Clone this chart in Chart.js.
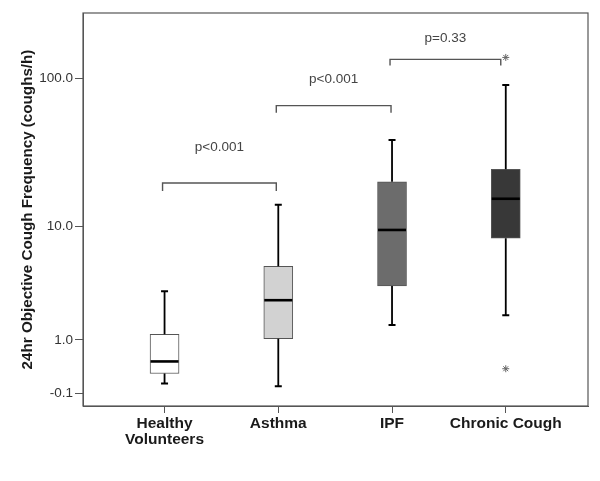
<!DOCTYPE html>
<html>
<head>
<meta charset="utf-8">
<style>
  html, body { margin: 0; padding: 0; background: #fff; }
  #wrap { width: 600px; height: 481px; }
</style>
<script src="https://cdn.jsdelivr.net/npm/chart.js@4/dist/chart.umd.min.js"></script>
</head>
<body>
<div id="wrap"><canvas id="myChart" width="600" height="481"></canvas></div>
<script>
// coughs per hour
const categories = [['Healthy', 'Volunteers'], 'Asthma', 'IPF', 'Chronic Cough'];
const whiskerLow = [0.04, 0.0, 1.5, 1.9];
const q1 = [0.21, 1.04, 3.49, 8.2];
const median = [0.45, 2.63, 9.4, 15.6];
const q3 = [1.18, 5.04, 20.4, 24.8];
const whiskerHigh = [3.15, 14.2, 39.0, 90.2];
const outlierCat = [3, 3];
const outlierVal = [0.30, 137];
const tickValues = [100, 10, 1, -0.1];
const tickLabels = ['100.0', '10.0', '1.0', '-0.1'];
const pLabels = ['p<0.001', 'p<0.001', 'p=0.33'];

const boxColors = ['#ffffff', '#d2d2d2', '#6c6c6c', '#383838'];

// axis is log10(x + 1)
const T = v => Math.log10(v + 1);

// bracket layout (levels in coughs/h)
const brackets = [
  { from: 0, to: 1, level: 20, drop: 8, textAt: 35, dxR: -2 },
  { from: 1, to: 2, level: 66, drop: 7, textAt: 99, dxR: -1 },
  { from: 2, to: 3, level: 133, drop: 6, textAt: 183, dxR: -5 }
];

const ctx = document.getElementById('myChart').getContext('2d');

const boxPlugin = {
  id: 'boxExtras',
  afterDatasetsDraw(chart) {
    const c = chart.ctx;
    const xs = chart.scales.x, ys = chart.scales.y;
    const a = chart.chartArea;
    c.save();
    // whiskers and caps
    c.strokeStyle = '#000';
    categories.forEach((cat, i) => {
      const x = xs.getPixelForValue(i);
      c.lineWidth = 1.8;
      c.beginPath();
      c.moveTo(x, ys.getPixelForValue(T(whiskerHigh[i])));
      c.lineTo(x, ys.getPixelForValue(T(q3[i])));
      c.moveTo(x, ys.getPixelForValue(T(q1[i])));
      c.lineTo(x, ys.getPixelForValue(T(whiskerLow[i])));
      c.stroke();
      c.lineWidth = 2;
      c.beginPath();
      [whiskerHigh[i], whiskerLow[i]].forEach(v => {
        const y = ys.getPixelForValue(T(v));
        c.moveTo(x - 3.5, y);
        c.lineTo(x + 3.5, y);
      });
      c.stroke();
      // median
      c.lineWidth = 2.6;
      const ym = ys.getPixelForValue(T(median[i]));
      c.beginPath();
      c.moveTo(x - 14, ym);
      c.lineTo(x + 14, ym);
      c.stroke();
    });
    // brackets
    c.strokeStyle = '#555';
    c.lineWidth = 1.4;
    c.fillStyle = '#444';
    c.font = '13.5px "Liberation Sans", Arial, sans-serif';
    c.textAlign = 'center';
    c.textBaseline = 'middle';
    brackets.forEach((b, i) => {
      const x1 = xs.getPixelForValue(b.from) - 2;
      const x2 = xs.getPixelForValue(b.to) + b.dxR;
      const y = ys.getPixelForValue(T(b.level));
      c.beginPath();
      c.moveTo(x1, y + b.drop);
      c.lineTo(x1, y);
      c.lineTo(x2, y);
      c.lineTo(x2, y + b.drop);
      c.stroke();
      c.fillText(pLabels[i], (x1 + x2) / 2, ys.getPixelForValue(T(b.textAt)));
    });
    // frame
    c.strokeStyle = '#555';
    c.lineWidth = 1.2;
    c.strokeRect(a.left, a.top, a.right - a.left, a.bottom - a.top);
    c.restore();
  }
};

new Chart(ctx, {
  type: 'bar',
  data: {
    datasets: [{
      data: categories.map((cat, i) => ({ x: i, y: [T(q1[i]), T(q3[i])] })),
      backgroundColor: boxColors,
      borderColor: '#555',
      borderWidth: 1,
      borderSkipped: false,
      barThickness: 29
    }, {
      type: 'scatter',
      data: outlierVal.map((v, i) => ({ x: outlierCat[i], y: T(v) })),
      pointStyle: 'star',
      radius: 3.5,
      borderColor: '#666',
      borderWidth: 1
    }]
  },
  options: {
    responsive: false,
    animation: false,
    layout: { padding: { top: 13, right: 12, left: 0, bottom: 0 } },
    plugins: { legend: { display: false }, tooltip: { enabled: false } },
    scales: {
      x: {
        type: 'linear',
        min: -0.717,
        max: 3.723,
        offset: false,
        grid: { display: true, offset: false, drawOnChartArea: false, drawTicks: true, tickLength: 7, color: '#555' },
        border: { display: true, color: '#555' },
        afterBuildTicks: s => { s.ticks = categories.map((cat, i) => ({ value: i })); },
        afterFit: s => { s.height = 75; },
        ticks: {
          autoSkip: false,
          maxRotation: 0,
          padding: 3,
          color: '#1a1a1a',
          font: { family: '"Liberation Sans", Arial, sans-serif', size: 15.5, weight: 'bold', lineHeight: 1.0 },
          callback: v => categories[v]
        }
      },
      y: {
        min: -0.1286,
        max: 2.429,
        grid: { display: true, drawOnChartArea: false, drawTicks: true, tickLength: 8, color: '#555' },
        border: { display: true, color: '#555' },
        afterBuildTicks: s => { s.ticks = tickValues.map(v => ({ value: T(v) })); },
        afterFit: s => { s.width = 83; },
        ticks: {
          padding: 2,
          color: '#333',
          font: { family: '"Liberation Sans", Arial, sans-serif', size: 13.5 },
          callback: (v, i) => tickLabels[i]
        },
        title: {
          display: true,
          text: '24hr Objective Cough Frequency (coughs/h)',
          color: '#1a1a1a',
          font: { family: '"Liberation Sans", Arial, sans-serif', size: 15.2, weight: 'bold' },
          padding: { top: 19, bottom: 0 }
        }
      }
    }
  },
  plugins: [boxPlugin]
});
</script>
</body>
</html>
